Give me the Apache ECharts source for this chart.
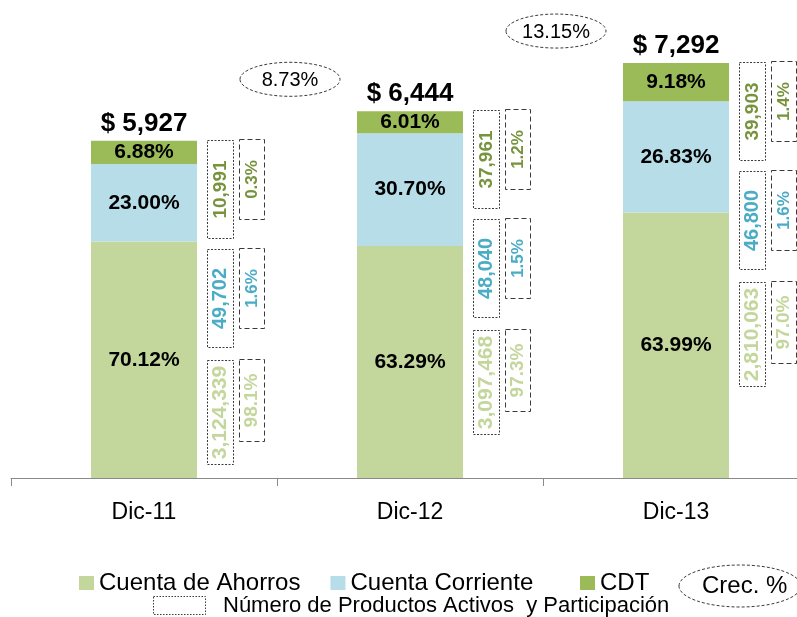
<!DOCTYPE html>
<html>
<head>
<meta charset="utf-8">
<script src="https://cdn.jsdelivr.net/npm/echarts@6/dist/echarts.min.js"></script>
<style>
html,body{margin:0;padding:0;background:#fff;overflow:hidden;}
#chart{width:809px;height:617px;}
</style>
</head>
<body>
<div id="chart"></div>
<script>
// ---- data ----
var categories = ['Dic-11', 'Dic-12', 'Dic-13'];
var totals = [5927, 6444, 7292];
var pctAhorros = [70.12, 63.29, 63.99];
var pctCorriente = [23.00, 30.70, 26.83];
var pctCDT = [6.88, 6.01, 9.18];
var prodAhorros = [3124339, 3097468, 2810063];
var prodCorriente = [49702, 48040, 46800];
var prodCDT = [10991, 37961, 39903];
var partAhorros = [98.1, 97.3, 97.0];
var partCorriente = [1.6, 1.5, 1.6];
var partCDT = [0.3, 1.2, 1.4];
var growth = [8.73, 13.15];
var seriesNames = ['Cuenta de Ahorros', 'Cuenta Corriente', 'CDT'];

// ---- style ----
var FONT = '"Liberation Sans", Arial, sans-serif';
var colAhorros = '#C3D69B', colCorriente = '#B7DEE8', colCDT = '#9BBB59';
var txtAhorros = '#C3D69B', txtCorriente = '#4BACC6', txtCDT = '#77933C';
var boxStroke = '#3a3a3a';

function seg(total, pct) { return total.map(function (t, i) { return t * pct[i] / 100; }); }
function fmt(n) { return n.toLocaleString('en-US'); }

var chart = echarts.init(document.getElementById('chart'), null, {renderer: 'canvas'});

function barSeries(name, values, pcts, color) {
  return {
    name: name, type: 'bar', stack: 'total', barWidth: 106,
    itemStyle: {color: color},
    label: {
      show: true, position: 'inside', color: '#000',
      fontFamily: FONT, fontWeight: 'bold', fontSize: 21,
      formatter: function (p) { return pcts[p.dataIndex].toFixed(2) + '%'; }
    },
    data: values
  };
}

var groupsInfo = [
  {prod: prodCDT, part: partCDT, color: txtCDT, off: -1, nh: 98, ph: 80, nfs: 19, pfs: 17},
  {prod: prodCorriente, part: partCorriente, color: txtCorriente, off: 108, nh: 98, ph: 80, nfs: 20, pfs: 17},
  {prod: prodAhorros, part: partAhorros, color: txtAhorros, off: 219, nh: 104, ph: 82, nfs: 21, pfs: 19}
];

function renderAnnot(params, api) {
  var idx = api.value(0);
  var pt = api.coord([idx, api.value(1)]);
  var cx = pt[0], T = pt[1];
  var children = [];
  children.push({
    type: 'text', x: cx, y: T - 17,
    style: {text: '$ ' + fmt(totals[idx]), fill: '#000', fontFamily: FONT, fontWeight: 'bold',
      fontSize: 26, align: 'center', verticalAlign: 'middle'}
  });
  groupsInfo.forEach(function (g) {
    var y0 = Math.round(T + g.off) + 0.5;
    var nx = Math.round(cx + 63) + 0.5;
    var px = Math.round(cx + 95) + 0.5;
    children.push({type: 'rect', shape: {x: nx, y: y0, width: 26, height: g.nh},
      style: {fill: 'rgba(0,0,0,0)', stroke: boxStroke, lineWidth: 1, lineDash: [2, 1.5]}});
    children.push({type: 'text', x: nx + 13, y: y0 + g.nh / 2, rotation: Math.PI / 2,
      style: {text: fmt(g.prod[idx]), fill: g.color, fontFamily: FONT, fontWeight: 'bold',
        fontSize: g.nfs, align: 'center', verticalAlign: 'middle'}});
    children.push({type: 'rect', shape: {x: px, y: y0 - 1, width: 25, height: g.ph},
      style: {fill: 'rgba(0,0,0,0)', stroke: boxStroke, lineWidth: 1, lineDash: [5, 3]}});
    children.push({type: 'text', x: px + 12.5, y: y0 - 1 + g.ph / 2, rotation: Math.PI / 2,
      style: {text: g.part[idx].toFixed(1) + '%', fill: g.color, fontFamily: FONT, fontWeight: 'bold',
        fontSize: g.pfs, align: 'center', verticalAlign: 'middle'}});
  });
  if (idx > 0) {
    var ex = cx - 120, ey = T - 32;
    children.push({type: 'ellipse', shape: {cx: ex, cy: ey, rx: 50, ry: 17},
      style: {fill: 'rgba(0,0,0,0)', stroke: boxStroke, lineWidth: 1, lineDash: [3, 2]}});
    children.push({type: 'text', x: ex, y: ey + 1,
      style: {text: growth[idx - 1].toFixed(2) + '%', fill: '#000', fontFamily: FONT,
        fontSize: 20, align: 'center', verticalAlign: 'middle'}});
  }
  return {type: 'group', children: children};
}

var legendText = {color: '#000', fontFamily: FONT, fontSize: 24};
var option = {
  animation: false,
  backgroundColor: '#fff',
  grid: {left: 11, top: 0, right: 0, height: 478, containLabel: false},
  xAxis: {
    type: 'category', data: categories,
    axisLine: {lineStyle: {color: '#8a8a8a', width: 1}},
    axisTick: {show: true, length: 8, lineStyle: {color: '#8a8a8a'}},
    axisLabel: {color: '#000', fontFamily: FONT, fontSize: 23, margin: 23}
  },
  yAxis: {type: 'value', min: 0, max: 8400, show: false, splitLine: {show: false}},
  legend: [
    {data: seriesNames.slice(0, 2), left: 74, top: 566, icon: 'rect', itemWidth: 15, itemHeight: 14,
      itemGap: 30, textStyle: legendText},
    {data: seriesNames.slice(2), left: 575, top: 566, icon: 'rect', itemWidth: 15, itemHeight: 14,
      textStyle: legendText}
  ],
  graphic: [
    {type: 'rect', shape: {x: 153.5, y: 596.5, width: 52, height: 18},
      style: {fill: 'rgba(0,0,0,0)', stroke: boxStroke, lineWidth: 1, lineDash: [1.5, 1.5]}},
    {type: 'text', x: 223, y: 606,
      style: {text: 'Número de Productos Activos  y Participación', fill: '#000', fontFamily: FONT,
        fontSize: 22, verticalAlign: 'middle'}},
    {type: 'ellipse', shape: {cx: 740, cy: 586, rx: 61, ry: 21},
      style: {fill: 'rgba(0,0,0,0)', stroke: boxStroke, lineWidth: 1, lineDash: [3, 2]}},
    {type: 'text', x: 702, y: 586,
      style: {text: 'Crec. %', fill: '#000', fontFamily: FONT, fontSize: 24, verticalAlign: 'middle'}}
  ],
  series: [
    barSeries(seriesNames[0], seg(totals, pctAhorros), pctAhorros, colAhorros),
    barSeries(seriesNames[1], seg(totals, pctCorriente), pctCorriente, colCorriente),
    barSeries(seriesNames[2], seg(totals, pctCDT), pctCDT, colCDT),
    {
      type: 'custom', name: 'annot', renderItem: renderAnnot, clip: false, z: 5,
      data: totals.map(function (t, i) { return [i, t]; }),
      silent: true
    }
  ]
};
chart.setOption(option);
</script>
</body>
</html>
